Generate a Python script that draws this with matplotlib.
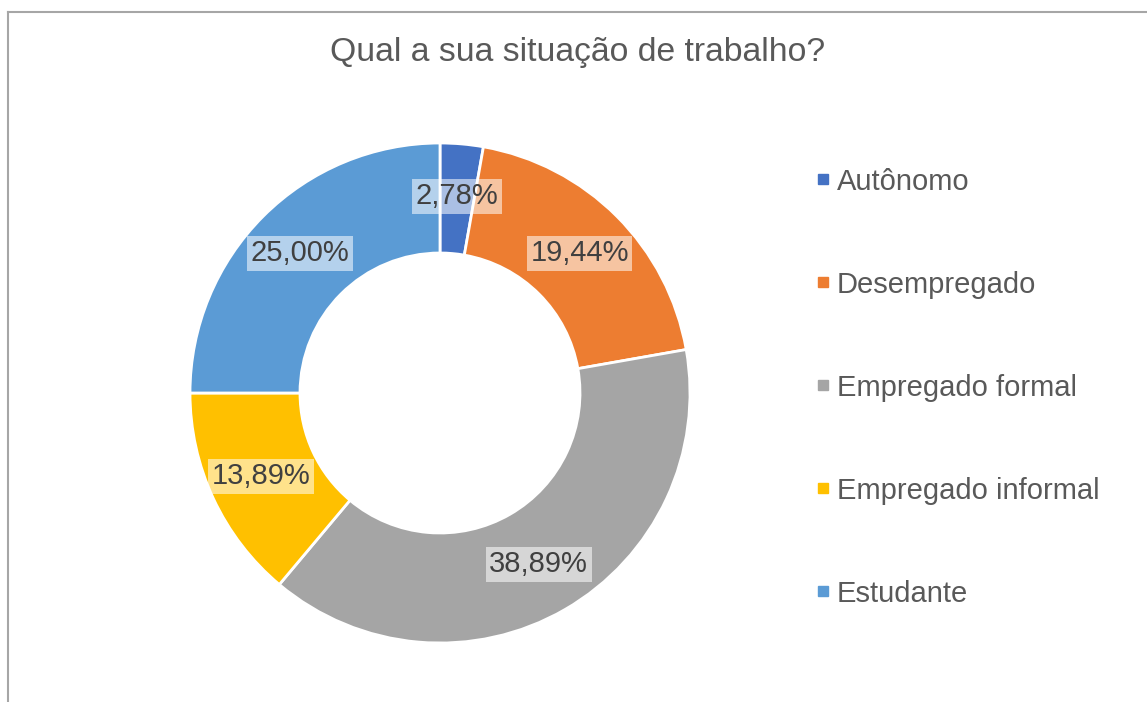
import matplotlib
matplotlib.use("Agg")
import matplotlib.pyplot as plt
from matplotlib.lines import Line2D

categories = ["Autônomo", "Desempregado", "Empregado formal", "Empregado informal", "Estudante"]
values = [2.78, 19.44, 38.89, 13.89, 25.00]
colors = ["#4472C4", "#ED7D31", "#A5A5A5", "#FFC000", "#5B9BD5"]
title = "Qual a sua situação de trabalho?"

plt.rcParams['font.family'] = ['Liberation Sans', 'DejaVu Sans']

W, H = 1147, 702
fig = plt.figure(figsize=(W / 100, H / 100), dpi=100)
fig.patch.set_facecolor("white")

# pie axes: center (440,393), radius 250 px
cx, cy, R = 440, 393, 250
ax = fig.add_axes([(cx - R) / W, (H - cy - R) / H, 2 * R / W, 2 * R / H])
wedges, texts, autotexts = ax.pie(
    values, colors=colors, startangle=90, counterclock=False, radius=1.0,
    wedgeprops=dict(width=0.44, edgecolor="white", linewidth=2),
    autopct=lambda p: f"{p:.2f}%".replace(".", ","), pctdistance=0.79,
    textprops=dict(fontsize=21, color="#404040"))
for t in autotexts:
    t.set_bbox(dict(facecolor="white", alpha=0.55, edgecolor="none", pad=2.5))
ax.set_xlim(-1, 1)
ax.set_ylim(-1, 1)
ax.set_aspect("equal")
ax.axis("off")

fig.text(578 / W, 1 - 53 / H, title, ha="center", va="center", fontsize=24.3, color="#595959")

handles = [Line2D([0], [0], marker="s", linestyle="none", markersize=6.5,
                  markerfacecolor=c, markeredgecolor=c) for c in colors]
leg = fig.legend(handles, categories, loc="upper left", bbox_to_anchor=(803 / W, 1 - 156 / H),
                 frameon=False, fontsize=21, labelspacing=2.57, handlelength=0.55,
                 handletextpad=0.2, borderaxespad=0)
for t in leg.get_texts():
    t.set_color("#595959")

# border
fig.add_artist(Line2D([8 / W, 1], [1 - 12 / H, 1 - 12 / H], transform=fig.transFigure, color="#a6a6a6", lw=1.5))
fig.add_artist(Line2D([8 / W, 8 / W], [0, 1 - 12 / H], transform=fig.transFigure, color="#a6a6a6", lw=1.5))

fig.savefig("out.png", dpi=100)
